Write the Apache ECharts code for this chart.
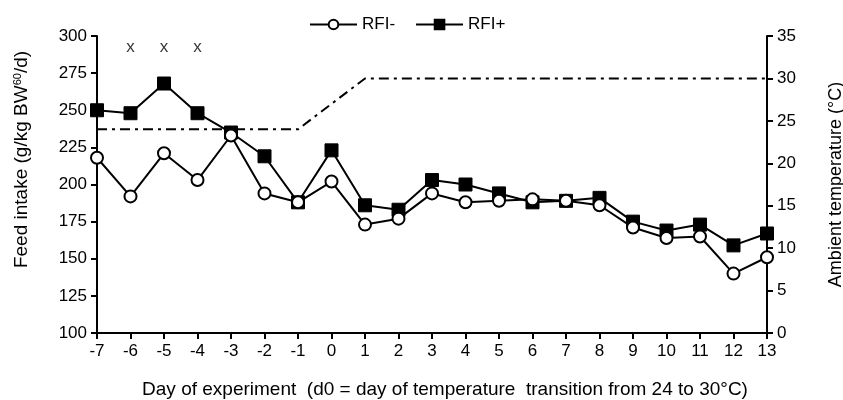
<!DOCTYPE html>
<html><head><meta charset="utf-8">
<script src="https://cdn.jsdelivr.net/npm/echarts@6/dist/echarts.min.js"></script>
<style>html,body{margin:0;padding:0;background:#fff}#c{width:843px;height:400px}</style>
</head><body><div id="c"></div>
<script>
var days = [-7,-6,-5,-4,-3,-2,-1,0,1,2,3,4,5,6,7,8,9,10,11,12,13];
var rfiMinus = [218,192,221,203,233,194,188,202,173,177,194,188,189,190,189,186,171,164,165,140,151];
var rfiPlus = [250,248,268,248,235,219,188,223,186,183,203,200,194,188,189,191,175,169,173,159,167];
var tempDays = [-7,-1,1,13];
var tempVals = [24,24,30,30];
var sigDays = [-6,-5,-4];
var sigLevel = 292.5;

function pairs(xs, ys){ return xs.map(function(x,i){ return [x, ys[i]]; }); }

var font = 'Liberation Sans, Arial, sans-serif';
var chart = echarts.init(document.getElementById('c'));
chart.setOption({
  animation: false,
  textStyle: {fontFamily: font, color: '#000'},
  grid: {left: 97, right: 76, top: 36, bottom: 67, containLabel: false, outerBoundsMode: 'none'},
  legend: {
    top: 11, left: 304, itemGap: 20, itemWidth: 47, itemHeight: 12,
    textStyle: {fontSize: 17, color: '#000', fontFamily: font},
    data: [{name: 'RFI-'}, {name: 'RFI+'}]
  },
  xAxis: {
    type: 'value', min: -7, max: 13, interval: 1,
    name: 'Day of experiment  (d0 = day of temperature  transition from 24 to 30°C)',
    nameLocation: 'middle', nameGap: 47,
    nameTextStyle: {fontSize: 19, color: '#000', padding: [0, 0, 0, 26]},
    axisLine: {onZero: false, lineStyle: {color: '#000', width: 2}},
    axisTick: {lineStyle: {color: '#000', width: 2}, length: 6},
    axisLabel: {fontSize: 17, color: '#000', margin: 10},
    splitLine: {show: false}
  },
  yAxis: [{
    type: 'value', min: 100, max: 300, interval: 25,
    name: 'Feed intake (g/kg BW{sup|60}/d)',
    nameLocation: 'middle', nameGap: 66, nameRotate: 90,
    nameTextStyle: {fontSize: 19, color: '#000', padding: [0, 0, 0, 50], rich: {sup: {fontSize: 11, verticalAlign: 'top', padding: [0,0,8,0], color: '#000'}}},
    axisLine: {show: true, onZero: false, lineStyle: {color: '#000', width: 2}},
    axisTick: {show: true, lineStyle: {color: '#000', width: 2}, length: 6},
    axisLabel: {fontSize: 17, color: '#000', margin: 10},
    splitLine: {show: false}
  }, {
    type: 'value', min: 0, max: 35, interval: 5, position: 'right',
    name: 'Ambient temperature (°C)',
    nameLocation: 'middle', nameGap: 60, nameRotate: 90,
    nameTextStyle: {fontSize: 18, color: '#000'},
    axisLine: {show: true, onZero: false, lineStyle: {color: '#000', width: 2}},
    axisTick: {show: true, lineStyle: {color: '#000', width: 2}, length: 6},
    axisLabel: {fontSize: 17, color: '#000', margin: 10},
    splitLine: {show: false}
  }],
  series: [{
    name: 'Temperature', type: 'line', yAxisIndex: 1,
    data: pairs(tempDays, tempVals), symbol: 'none', z: 1,
    lineStyle: {color: '#000', width: 2, type: [10, 5, 3, 5]}
  }, {
    name: 'RFI-', type: 'line', data: pairs(days, rfiMinus),
    symbol: 'circle', symbolSize: 12, z: 3,
    lineStyle: {color: '#000', width: 2},
    itemStyle: {color: '#fff', borderColor: '#000', borderWidth: 2}
  }, {
    name: 'RFI+', type: 'line', data: pairs(days, rfiPlus),
    symbol: 'rect', symbolSize: 13, z: 2,
    lineStyle: {color: '#000', width: 2},
    itemStyle: {color: '#000', borderColor: '#000', borderWidth: 1}
  }, {
    name: 'sig', type: 'scatter', data: sigDays.map(function(d){ return [d, sigLevel]; }),
    symbolSize: 0, silent: true,
    label: {show: true, position: 'inside', formatter: 'x', fontSize: 17, color: '#000', fontFamily: font}
  }]
});
</script></body></html>
